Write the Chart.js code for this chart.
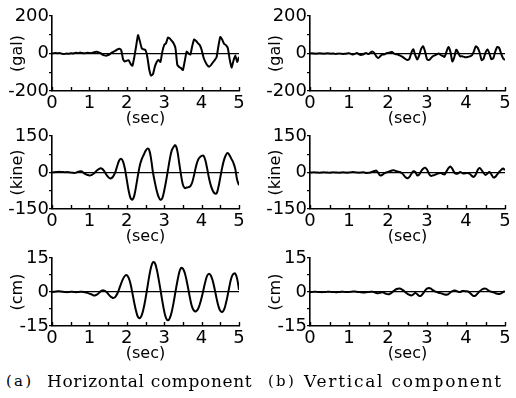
<!DOCTYPE html>
<html><head><meta charset="utf-8">
<script src="https://cdn.jsdelivr.net/npm/chart.js@4.4.0/dist/chart.umd.min.js"></script>
<style>
html,body{margin:0;padding:0;background:#fff;}
body{width:516px;height:398px;position:relative;overflow:hidden;}
canvas{position:absolute;}
.cap{position:absolute;top:371px;font-family:"DejaVu Serif",serif;font-size:17px;color:#000;white-space:pre;line-height:20px;}
.lab{font-size:15px;word-spacing:-2.5px;}
</style></head><body>
<canvas id="c0"></canvas><canvas id="c1"></canvas><canvas id="c2"></canvas>
<canvas id="c3"></canvas><canvas id="c4"></canvas><canvas id="c5"></canvas>
<div class="cap lab" style="left:6px">( a )</div>
<div class="cap" style="left:47px;letter-spacing:0.65px">Horizontal component</div>
<div class="cap lab" style="left:268px">( b )</div>
<div class="cap" style="left:304px;letter-spacing:1.75px">Vertical component</div>
<script>
const times = [0,0.05,0.1,0.15,0.2,0.25,0.3,0.35,0.4,0.45,0.5,0.55,0.6,0.65,0.7,0.75,0.8,0.85,0.9,0.95,
1,1.05,1.1,1.15,1.2,1.25,1.3,1.35,1.4,1.45,1.5,1.55,1.6,1.65,1.7,1.75,1.8,1.85,1.9,1.95,
2,2.05,2.1,2.15,2.2,2.25,2.3,2.35,2.4,2.45,2.5,2.55,2.6,2.65,2.7,2.75,2.8,2.85,2.9,2.95,
3,3.05,3.1,3.15,3.2,3.25,3.3,3.35,3.4,3.45,3.5,3.55,3.6,3.65,3.7,3.75,3.8,3.85,3.9,3.95,
4,4.05,4.1,4.15,4.2,4.25,4.3,4.35,4.4,4.45,4.5,4.55,4.6,4.65,4.7,4.75,4.8,4.85,4.9,4.95,5];

const accH = [0,2,3,1,3,0,-3,-2,0,-2, 2,0,2,4,2,5,3,1,2,4, 3,2,5,8,9,6,2,-6,-10,-12,
-8,-3,5,10,15,22,25,18,-30,-43, -38,-36,-55,-65,-20,40,98,65,28,22, 18,-20,-85,-118,-110,-70,-45,-35,-45,10,
45,55,85,80,68,55,30,-60,-72,-78, -88,-40,10,0,-5,40,75,68,55,45, 20,-20,-45,-62,-70,-62,-48,-35,-20,40,
88,75,52,45,30,-30,-75,-40,-10,-45, -18];
const accV = [0,1,0,-1,0,1,0,-1,0,1, 0,-1,0,-2,-1,0,-1,-2,-1,0, 2,-2,-5,-2,3,-3,-8,-6,0,2,
-3,5,10,2,-15,-24,-15,-6,-5,0, 3,6,8,0,-4,-5,-10,-15,-22,-30, -35,-28,5,22,-10,-32,-10,25,38,10,
-30,-35,-25,-15,-10,-5,0,-8,-12,-18, 10,35,10,-42,-20,20,5,-15,-15,-18, -20,-18,-15,-10,10,38,30,5,-35,-28,
5,22,0,-30,-25,10,35,30,0,-25, -35];
const velH = [0,1,2,2,3,2,2,1,2,1, 0,-1,-2,0,3,5,4,-2,-7,-10, -12,-11,-6,0,8,14,17,14,5,-8,
-18,-24,-22,-12,5,30,50,56,45,15, -30,-75,-105,-112,-95,-55,-10,30,55,72, 88,98,92,55,0,-40,-75,-100,-112,-105,
-75,-35,10,55,90,105,112,90,40,-10, -50,-64,-62,-60,-56,-40,-10,25,50,62, 68,69,50,15,-25,-55,-75,-86,-86,-60,
-20,20,52,72,80,70,55,40,15,-30, -52];
const velV = [0,0,1,0,0,-1,0,1,0,0, -1,0,1,0,0,-1,0,1,0,-1, 0,1,2,1,0,-1,0,1,0,-2,
-1,0,3,6,8,-2,-12,-10,-4,0, 2,5,8,9,6,4,2,-2,-10,-20, -24,-18,-5,5,2,-12,-8,5,15,20,
12,-5,-14,-12,-10,-6,-3,-2,-6,-8, 5,18,25,15,0,-5,-3,2,-2,-4, -3,-2,-6,-14,-18,-8,10,18,10,-2,
-10,-4,2,-8,-20,-18,-8,2,10,16, 10];
const dispH = [0,0.1,0.2,0.3,0.3,0.2,0.1,0,-0.1,0, 0.1,0.1,0,-0.1,0,0.1,0.1,0,-0.2,-0.4, -0.7,-1.0,-1.4,-1.5,-1.2,-0.5,0.3,0.7,0.6,0.1,
-0.8,-1.8,-2.4,-2.6,-2.0,-0.6,1.5,3.8,5.8,7.1, 7.4,6.2,3.5,-0.5,-4.8,-8.5,-11.0,-11.5,-10.2,-7.2, -3.0,2.0,7.0,11.0,13.2,12.8,10.0,5.8,1.0,-4.0,
-8.5,-11.5,-12.5,-11.5,-8.8,-4.8,0,4.5,8.5,10.6, 10.3,8.4,5.0,0.8,-3.5,-6.8,-8.3,-8.5,-7.6,-5.5, -2.5,1.0,4.5,7.2,8.1,7.2,4.8,1.2,-2.8,-6.2,
-8.3,-8.8,-7.8,-5.0,-1.2,3.0,6.4,8.0,8.1,5.8, 1.0];
const dispV = [0,0,0.1,0.1,0,0,-0.1,0,0,0.1, 0.1,0,0,-0.1,-0.1,0,0.1,0.1,0,0, 0,0.1,0.2,0.2,0.1,0,-0.1,-0.2,-0.2,-0.1,
0,0.1,0.1,-0.1,-0.4,-0.5,-0.3,-0.1,-0.4,-0.8, -1.0,-0.8,-0.2,0.5,1.1,1.4,1.5,1.2,0.6,-0.2, -0.8,-1.3,-1.5,-1.1,-0.4,-1.0,-1.7,-1.6,-0.6,0.6,
1.5,1.8,1.5,0.8,0.3,0,-0.3,-0.5,-0.8,-1.1, -1.2,-0.9,-0.2,0.4,0.7,0.5,0.1,0,0.4,0.4, 0.3,0.2,-0.4,-1.2,-1.8,-1.5,-0.6,0.3,1.0,1.4,
1.5,1.0,0.4,0.1,-0.1,-0.5,-0.8,-0.9,-0.6,0, 0.3];

const xTitle = '(sec)';
const units = ['(gal)','(gal)','(kine)','(kine)','(cm)','(cm)'];
const limits = [200,200,150,150,15,15];
const steps = [100,100,75,75,7.5,7.5];
const series = [accH,accV,velH,velV,dispH,dispV];
const tensions = [0.15,0.25,0.35,0.35,0.4,0.4];

const boxes = [
  {left:0,top:0,h:128,pr:19},{left:258,top:0,h:128,pr:11},
  {left:0,top:120,h:126,pr:19},{left:258,top:120,h:126,pr:11},
  {left:0,top:242,h:121,pr:19},{left:258,top:242,h:121,pr:11}
];

const tickFont = {family:'DejaVu Sans',size:18};
const titleFont = {family:'DejaVu Sans',size:16};

const inTicks = {
  id:'inTicks',
  afterDraw(chart){
    const xs = chart.scales.x, ctx = chart.ctx, y0 = chart.chartArea.bottom;
    ctx.save(); ctx.strokeStyle='#000'; ctx.lineWidth=1.4;
    xs.ticks.forEach(t=>{
      const px = Math.round(xs.getPixelForValue(t.value))+0.5;
      ctx.beginPath(); ctx.moveTo(px,y0); ctx.lineTo(px,y0-4); ctx.stroke();
    });
    ctx.restore();
  }
};

series.forEach((vals,i)=>{
  const b = boxes[i];
  const cv = document.getElementById('c'+i);
  cv.width = 258; cv.height = b.h;
  cv.style.left = b.left+'px'; cv.style.top = b.top+'px';
  cv.style.width = '258px'; cv.style.height = b.h+'px';
  const lim = limits[i], st = steps[i];
  new Chart(cv, {
    type:'line',
    data:{datasets:[{
      data: times.map((t,k)=>({x:t,y:vals[k]})),
      borderColor:'#000', borderWidth:2, pointRadius:0, tension:tensions[i], fill:false
    }]},
    options:{
      responsive:false, animation:false, devicePixelRatio:1,
      layout:{padding:{top:16,right:b.pr,bottom:0,left:0}},
      plugins:{legend:{display:false},tooltip:{enabled:false}},
      scales:{
        x:{type:'linear',min:0,max:5,
          afterFit:s=>{s.height=37;},
          ticks:{stepSize:0.5,autoSkip:false,maxRotation:0,padding:2,color:'#000',font:tickFont,
            callback:v=>Number.isInteger(v)?String(v):''},
          grid:{display:false,drawTicks:false},
          border:{display:true,color:'#000',width:1.6},
          title:{display:true,text:xTitle,color:'#000',font:titleFont,padding:{top:0,bottom:0}}
        },
        y:{min:-lim,max:lim,
          afterFit:s=>{s.width=52;},
          ticks:{stepSize:st,autoSkip:false,padding:0,color:'#000',font:tickFont,
            callback:v=>(Math.abs(v)%(2*st)===0?String(v):'')},
          grid:{color:c=>(c.tick&&c.tick.value===0)?'#000':'rgba(0,0,0,0)',lineWidth:1.2,
            drawTicks:true,tickLength:3,tickColor:'#000',tickWidth:1.3},
          border:{display:true,color:'#000',width:1.6},
          title:{display:true,text:units[i],color:'#000',font:titleFont,padding:{top:8,bottom:0}}
        }
      }
    },
    plugins:[inTicks]
  });
});
</script>
</body></html>
